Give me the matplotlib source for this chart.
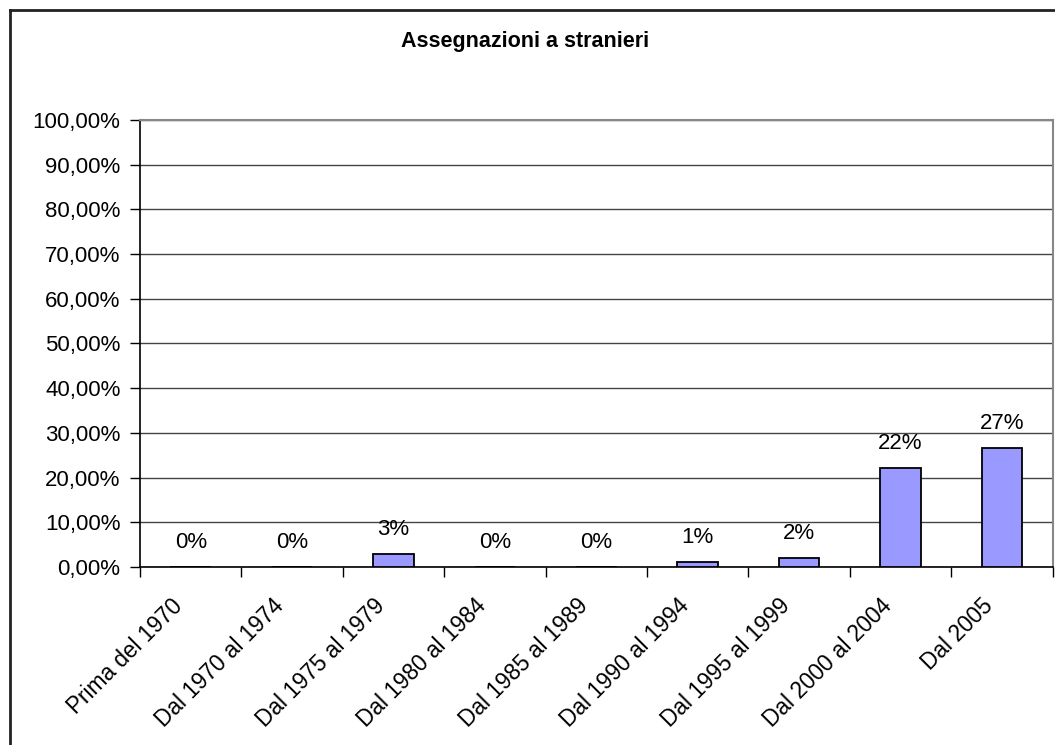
import matplotlib
matplotlib.use("Agg")
import matplotlib.pyplot as plt
from matplotlib.lines import Line2D
from matplotlib.ticker import FuncFormatter, MultipleLocator
from matplotlib.transforms import ScaledTranslation

categories = ["Prima del 1970", "Dal 1970 al 1974", "Dal 1975 al 1979",
              "Dal 1980 al 1984", "Dal 1985 al 1989", "Dal 1990 al 1994",
              "Dal 1995 al 1999", "Dal 2000 al 2004", "Dal 2005"]
values = [0.0, 0.0, 0.029, 0.0, 0.0, 0.012, 0.020, 0.222, 0.267]
title = "Assegnazioni a stranieri"

plt.rcParams['font.family'] = ['Liberation Sans', 'DejaVu Sans']

W, H = 1055, 745
fig = plt.figure(figsize=(W / 100, H / 100), dpi=100)
fig.patch.set_facecolor("white")

ax = fig.add_axes([140 / W, (H - 567) / H, 912.5 / W, 447 / H])
x = list(range(len(categories)))
ax.bar(x, values, width=0.4, color="#9999FF", edgecolor="black", linewidth=1.3, zorder=3)
ax.set_xlim(-0.5, len(categories) - 0.5)
ax.set_ylim(0, 1.0)
ax.yaxis.set_major_locator(MultipleLocator(0.1))
ax.yaxis.set_major_formatter(FuncFormatter(lambda v, p: f"{v * 100:.2f}".replace(".", ",") + "%"))
ax.grid(axis="y", color="#444444", linewidth=1.0, zorder=0)
ax.set_axisbelow(True)

ax.set_xticks([i - 0.5 for i in range(len(categories) + 1)], minor=False)
ax.set_xticklabels([""] * (len(categories) + 1))
ax.set_xticks(x, minor=True)
ax.set_xticklabels(categories, minor=True, rotation=45, ha="right", va="center",
                   rotation_mode="anchor", fontsize=16.3)
ax.tick_params(axis="x", which="minor", length=0, pad=25.5)
ax.tick_params(axis="x", which="major", length=7, width=1, color="black", direction="out")
ax.tick_params(axis="y", length=7, width=1, labelsize=16, pad=7)
shift = ScaledTranslation(-12 / 100, 0, fig.dpi_scale_trans)
for lab in ax.get_xticklabels(minor=True):
    lab.set_transform(lab.get_transform() + shift)

for s in ["top", "right"]:
    ax.spines[s].set_color("#888888")
    ax.spines[s].set_linewidth(1.5)
for s in ["left", "bottom"]:
    ax.spines[s].set_color("black")
    ax.spines[s].set_linewidth(1.2)

for xi, v in zip(x, values):
    ax.annotate(f"{round(v * 100):.0f}%", (xi, v), xytext=(0, 17.5), textcoords="offset points",
                ha="center", va="center", fontsize=16, zorder=4)

fig.text(525 / W, 1 - 42 / H, title, ha="center", va="center", fontsize=15.5, fontweight="bold")

fig.add_artist(Line2D([10 / W, 1.0], [1 - 10 / H, 1 - 10 / H], transform=fig.transFigure,
                      color="#222222", linewidth=2))
fig.add_artist(Line2D([10 / W, 10 / W], [0, 1 - 10 / H], transform=fig.transFigure,
                      color="#222222", linewidth=2))

fig.savefig("out.png", dpi=100)
